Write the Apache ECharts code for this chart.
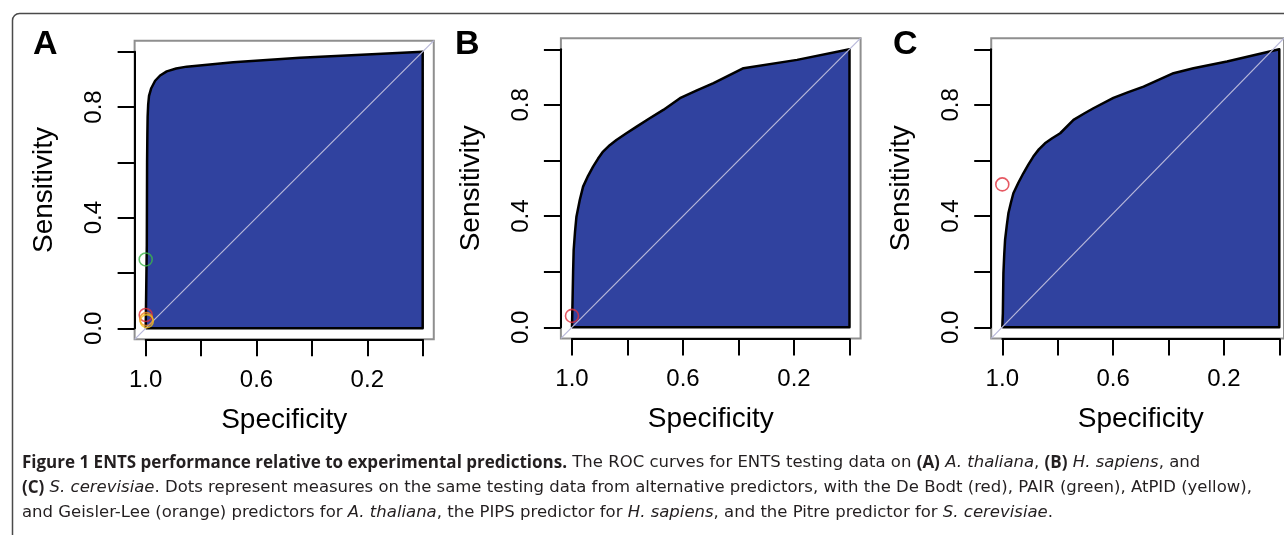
<!DOCTYPE html>
<html>
<head>
<meta charset="utf-8">
<script src="https://cdn.jsdelivr.net/npm/echarts@6/dist/echarts.min.js"></script>
<style>
  html, body { margin: 0; padding: 0; background: #fff; }
  #chart { width: 1284px; height: 535px; }
</style>
</head>
<body>
<div id="chart"></div>
<script>
// ROC curves as [specificity, sensitivity] pairs, ordered from specificity 1 to 0
const rocA = [[1.0,0],[0.996,0.0],[0.996,0.30],[0.995,0.60],[0.994,0.70],[0.993,0.765],[0.991,0.81],
  [0.988,0.84],[0.980,0.868],[0.966,0.895],[0.948,0.914],[0.924,0.929],[0.890,0.939],[0.852,0.946],
  [0.684,0.962],[0.443,0.978],[0.202,0.990],[0,1.0]];
const rocB = [[1,0],[0.999,0.05],[0.998,0.098],[0.996,0.20],[0.994,0.278],[0.989,0.345],[0.984,0.398],
  [0.972,0.458],[0.960,0.506],[0.942,0.545],[0.924,0.578],[0.906,0.607],[0.888,0.632],[0.864,0.655],
  [0.840,0.674],[0.804,0.698],[0.767,0.722],[0.720,0.752],[0.671,0.782],[0.611,0.824],[0.550,0.852],
  [0.490,0.878],[0.436,0.905],[0.382,0.932],[0.189,0.962],[0,1]];
const rocC = [[1,0],[0.998,0.05],[0.996,0.194],[0.993,0.262],[0.990,0.314],[0.984,0.365],[0.978,0.410],
  [0.969,0.448],[0.960,0.482],[0.942,0.520],[0.924,0.554],[0.906,0.585],[0.888,0.614],[0.868,0.640],
  [0.846,0.662],[0.820,0.680],[0.791,0.698],[0.743,0.746],[0.706,0.768],[0.671,0.788],[0.599,0.825],
  [0.545,0.846],[0.490,0.866],[0.436,0.890],[0.382,0.914],[0.310,0.932],[0.189,0.956],[0,1]];

// Alternative predictors: [specificity, sensitivity, colour]
const dotsA = [[1.0,0.249,'#3cb44b'],[1.0,0.048,'#e0303c'],[0.998,0.033,'#f08a24'],[0.996,0.026,'#f2c118']];
const dotsB = [[1.0,0.041,'#e0303c']];
const dotsC = [[1.0,0.514,'#e0303c']];

const panelLetters = ['A','B','C'];
const xTickLabels = ['1.0','0.6','0.2'];
const yTickLabels = ['0.0','0.4','0.8'];
const xTitle = 'Specificity';
const yTitle = 'Sensitivity';

const panels = [
  { letter: panelLetters[0], roc: rocA, dots: dotsA, left: 145.7, top: 51.7, w: 277, h: 276.6, lx: 33 },
  { letter: panelLetters[1], roc: rocB, dots: dotsB, left: 572.0, top: 49.3, w: 277.5, h: 278, lx: 455 },
  { letter: panelLetters[2], roc: rocC, dots: dotsC, left: 1002.3, top: 49.3, w: 277, h: 278, lx: 893 }
];

const PAD = 0.04;           // R-style 4% axis expansion around the data region
const FONT = '"Liberation Sans", Arial, Helvetica, sans-serif';
const CAP_FONT = '"DejaVu Sans", "Open Sans", sans-serif';
const CAP_BOLD = '"Open Sans", "Noto Sans", sans-serif';
const FILL = '#30429f';

const grid = [], xAxis = [], yAxis = [], series = [], graphic = [];

const axisCommon = {
  axisLine: { show: true, onZero: false, lineStyle: { color: '#000', width: 2 } },
  axisTick: { show: true, length: 17, lineStyle: { color: '#000', width: 2 } },
  splitLine: { show: false },
  nameLocation: 'middle',
  nameTextStyle: { color: '#000', fontSize: 28, fontFamily: FONT }
};

panels.forEach((p, i) => {
  const outer = 2 * i, inner = 2 * i + 1;
  grid.push({
    left: p.left - PAD * p.w, top: p.top - PAD * p.h,
    width: p.w * (1 + 2 * PAD), height: p.h * (1 + 2 * PAD),
    show: true, borderColor: '#8f8f8f', borderWidth: 2, backgroundColor: 'transparent'
  });
  grid.push({ left: p.left, top: p.top, width: p.w, height: p.h });

  xAxis.push({ gridIndex: outer, type: 'value', min: -PAD, max: 1 + PAD, inverse: true, show: false });
  yAxis.push({ gridIndex: outer, type: 'value', min: -PAD, max: 1 + PAD, show: false });

  xAxis.push(Object.assign({}, axisCommon, {
    gridIndex: inner, type: 'value', min: 0, max: 1, interval: 0.2, inverse: true,
    position: 'bottom', offset: PAD * p.h,
    axisLabel: {
      margin: 29, color: '#000', fontSize: 24, fontFamily: FONT,
      formatter: v => { const s = v.toFixed(1); return xTickLabels.includes(s) ? s : ''; }
    },
    name: xTitle, nameGap: 67
  }));
  yAxis.push(Object.assign({}, axisCommon, {
    gridIndex: inner, type: 'value', min: 0, max: 1, interval: 0.2,
    position: 'left', offset: PAD * p.w,
    axisLabel: {
      margin: 28, rotate: 90, color: '#000', fontSize: 24, fontFamily: FONT,
      formatter: v => { const s = v.toFixed(1); return yTickLabels.includes(s) ? s : ''; }
    },
    name: yTitle, nameGap: 76
  }));

  // filled area under the ROC curve, outlined in black
  const first = p.roc[0];
  const poly = p.roc.concat([[0, 0], [first[0], first[1]]]);
  series.push({
    type: 'line', xAxisIndex: inner, yAxisIndex: inner, data: poly,
    symbol: 'none', clip: false, silent: true, z: 2,
    lineStyle: { color: '#000', width: 2.5, join: 'round' },
    areaStyle: { color: FILL, opacity: 1 }
  });

  // chance diagonal across the whole plot box
  series.push({
    type: 'line', xAxisIndex: outer, yAxisIndex: outer,
    data: [[1 + PAD, -PAD], [-PAD, 1 + PAD]],
    symbol: 'none', silent: true, z: 3,
    lineStyle: { color: '#b8b8da', width: 1.2 }
  });

  series.push({
    type: 'scatter', xAxisIndex: inner, yAxisIndex: inner, z: 4, silent: true,
    symbol: 'circle', symbolSize: 13,
    data: p.dots.map(d => ({
      value: [d[0], d[1]],
      itemStyle: { color: 'rgba(0,0,0,0)', borderColor: d[2], borderWidth: 1.6 }
    }))
  });

  graphic.push({
    type: 'text', left: p.lx, top: 28,
    style: { text: p.letter, font: 'bold 34px ' + FONT, fill: '#000' }
  });
});

// figure frame
graphic.push({
  type: 'rect', shape: { x: 12.5, y: 13.5, width: 1300, height: 560, r: 7 },
  style: { fill: 'none', stroke: '#4a4a4a', lineWidth: 1.5 }, z: -1
});

const capRich = {
  b: { fontFamily: CAP_BOLD, fontSize: 17, fontWeight: 'bold', fill: '#231f20' },
  i: { fontFamily: CAP_FONT, fontSize: 16.5, fontStyle: 'italic', fill: '#231f20' },
  n: { fontFamily: CAP_FONT, fontSize: 16.5, fill: '#231f20' }
};
const captionLines = [
  '{b|Figure 1 ENTS performance relative to experimental predictions.}{n| The ROC curves for ENTS testing data on }{b|(A)}{n| }{i|A. thaliana}{n|, }{b|(B)}{n| }{i|H. sapiens}{n|, and}',
  '{b|(C)}{n| }{i|S. cerevisiae}{n|. Dots represent measures on the same testing data from alternative predictors, with the De Bodt (red), PAIR (green), AtPID (yellow),}',
  '{n|and Geisler-Lee (orange) predictors for }{i|A. thaliana}{n|, the PIPS predictor for }{i|H. sapiens}{n|, and the Pitre predictor for }{i|S. cerevisiae}{n|.}'
];
const captionY = [463, 488, 513];
captionLines.forEach((t, k) => {
  graphic.push({
    type: 'text', x: 22, y: captionY[k],
    style: { text: t, rich: capRich, fontFamily: CAP_FONT, fontSize: 16.5, fill: '#231f20', verticalAlign: 'middle' }
  });
});

const chart = echarts.init(document.getElementById('chart'), null, { renderer: 'canvas' });
chart.setOption({
  animation: false,
  backgroundColor: '#fff',
  grid, xAxis, yAxis, series, graphic
});
</script>
</body>
</html>
